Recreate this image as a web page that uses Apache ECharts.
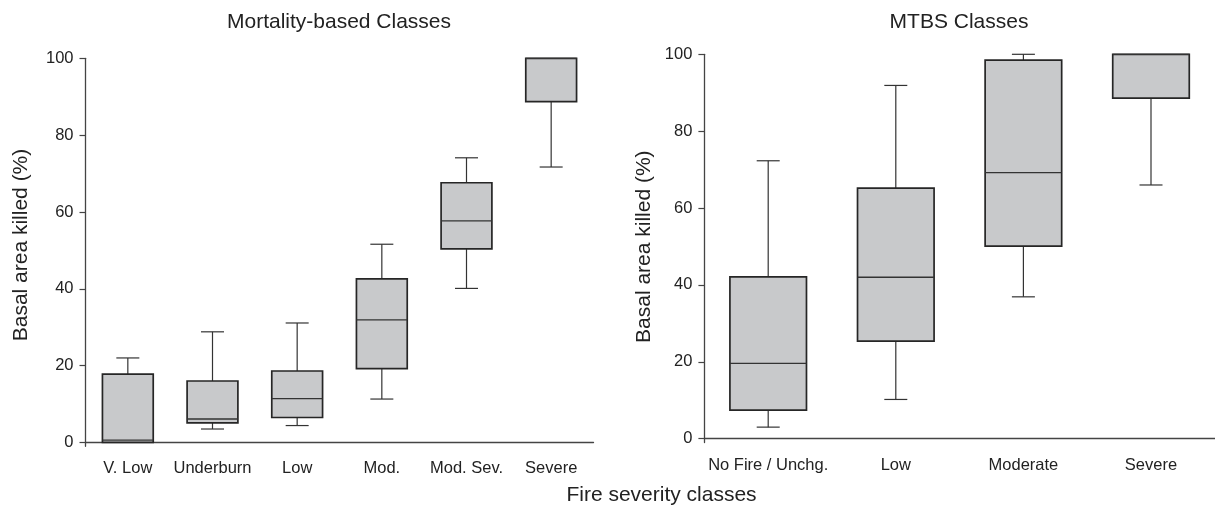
<!DOCTYPE html>
<html>
<head>
<meta charset="utf-8">
<script src="https://cdn.jsdelivr.net/npm/echarts@6/dist/echarts.min.js"></script>
<style>
html,body{margin:0;padding:0;background:#fff;}
#chart{width:1215px;height:507px;}
</style>
</head>
<body>
<div id="chart"></div>
<script>
// ---- data ----
const leftCategories = ['V. Low', 'Underburn', 'Low', 'Mod.', 'Mod. Sev.', 'Severe'];
const leftMin    = [0,    3.5,  4.4,  11.3, 40.1, 71.7];
const leftQ1     = [0,    5.1,  6.5,  19.2, 50.4, 88.7];
const leftMedian = [0.6,  6.1,  11.4, 31.9, 57.7, 100];
const leftQ3     = [17.8, 16.0, 18.6, 42.6, 67.6, 100];
const leftMax    = [22.0, 28.8, 31.1, 51.6, 74.1, 100];

const rightCategories = ['No Fire / Unchg.', 'Low', 'Moderate', 'Severe'];
const rightMin    = [3.0,  10.2, 36.9, 66.0];
const rightQ1     = [7.4,  25.4, 50.1, 88.6];
const rightMedian = [19.6, 42.0, 69.2, 100];
const rightQ3     = [42.1, 65.2, 98.5, 100];
const rightMax    = [72.3, 91.9, 100,  100];

const yTicks = [0, 20, 40, 60, 80, 100];

const leftTitle = 'Mortality-based Classes';
const rightTitle = 'MTBS Classes';
const yTitle = 'Basal area killed (%)';
const xTitle = 'Fire severity classes';

// ---- build ----
function rows(mins, q1s, meds, q3s, maxs) {
  return mins.map((v, i) => [i, mins[i], q1s[i], meds[i], q3s[i], maxs[i]]);
}

const TXT = '#222';
const FONT = "'Liberation Sans', Arial, sans-serif";

function renderBox(params, api) {
  const i = api.value(0);
  const vMin = api.value(1), vQ1 = api.value(2), vMed = api.value(3), vQ3 = api.value(4), vMax = api.value(5);
  const band = api.size([1, 0])[0];
  const half = band * 0.3;
  const capHalf = 11.5;
  const pMin = api.coord([i, vMin]);
  const pQ1 = api.coord([i, vQ1]);
  const pMed = api.coord([i, vMed]);
  const pQ3 = api.coord([i, vQ3]);
  const pMax = api.coord([i, vMax]);
  const x = pMed[0];
  const wStyle = { stroke: '#333', lineWidth: 1.2 };
  const children = [];
  if (vMax > vQ3) {
    children.push({ type: 'line', shape: { x1: x, y1: pMax[1], x2: x, y2: pQ3[1] }, style: wStyle });
    children.push({ type: 'line', shape: { x1: x - capHalf, y1: pMax[1], x2: x + capHalf, y2: pMax[1] }, style: wStyle });
  }
  if (vMin < vQ1) {
    children.push({ type: 'line', shape: { x1: x, y1: pQ1[1], x2: x, y2: pMin[1] }, style: wStyle });
    children.push({ type: 'line', shape: { x1: x - capHalf, y1: pMin[1], x2: x + capHalf, y2: pMin[1] }, style: wStyle });
  }
  children.push({
    type: 'rect',
    shape: { x: x - half, y: pQ3[1], width: half * 2, height: pQ1[1] - pQ3[1] },
    style: { fill: '#c8c9cb', stroke: '#262626', lineWidth: 1.7 }
  });
  children.push({ type: 'line', shape: { x1: x - half, y1: pMed[1], x2: x + half, y2: pMed[1] }, style: { stroke: '#333', lineWidth: 1.3 } });
  return { type: 'group', children: children };
}

function xAxisCfg(idx, cats) {
  return {
    type: 'category', gridIndex: idx, data: cats, boundaryGap: true,
    axisLine: { lineStyle: { color: '#444', width: 1.3 } },
    axisTick: { alignWithLabel: true, length: 6, lineStyle: { color: '#444', width: 1.2 } },
    axisLabel: { color: TXT, fontSize: 16.5, fontFamily: FONT, margin: 14, interval: 0 },
    splitLine: { show: false }
  };
}
function yAxisCfg(idx) {
  return {
    type: 'value', gridIndex: idx, min: -1, max: 100,
    axisLine: { show: true, lineStyle: { color: '#444', width: 1.3 } },
    axisTick: { show: true, length: 6, customValues: yTicks, lineStyle: { color: '#444', width: 1.2 } },
    axisLabel: { color: TXT, fontSize: 16.5, fontFamily: FONT, margin: 12, customValues: yTicks },
    splitLine: { show: false }
  };
}

const chart = echarts.init(document.getElementById('chart'), null, { renderer: 'canvas' });
chart.setOption({
  backgroundColor: '#fff',
  animation: false,
  title: [
    { text: leftTitle, left: 339, top: 12, padding: 0, textAlign: 'center', textStyle: { color: TXT, fontSize: 21, fontWeight: 'normal', fontFamily: FONT } },
    { text: rightTitle, left: 959, top: 12, padding: 0, textAlign: 'center', textStyle: { color: TXT, fontSize: 21, fontWeight: 'normal', fontFamily: FONT } }
  ],
  grid: [
    { left: 85.5, top: 58.3, width: 508, height: 388 },
    { left: 704.4, top: 54.3, width: 510.4, height: 388.2 }
  ],
  xAxis: [xAxisCfg(0, leftCategories), xAxisCfg(1, rightCategories)],
  yAxis: [yAxisCfg(0), yAxisCfg(1)],
  series: [
    { type: 'custom', xAxisIndex: 0, yAxisIndex: 0, renderItem: renderBox, clip: false,
      encode: { x: 0, y: [1, 2, 3, 4, 5] }, data: rows(leftMin, leftQ1, leftMedian, leftQ3, leftMax) },
    { type: 'custom', xAxisIndex: 1, yAxisIndex: 1, renderItem: renderBox, clip: false,
      encode: { x: 0, y: [1, 2, 3, 4, 5] }, data: rows(rightMin, rightQ1, rightMedian, rightQ3, rightMax) }
  ],
  graphic: [
    { type: 'text', x: 21.7, y: 245, rotation: Math.PI / 2,
      style: { text: yTitle, fill: TXT, font: '21px ' + FONT, textAlign: 'center', textVerticalAlign: 'middle' } },
    { type: 'text', x: 644, y: 246.7, rotation: Math.PI / 2,
      style: { text: yTitle, fill: TXT, font: '21px ' + FONT, textAlign: 'center', textVerticalAlign: 'middle' } },
    { type: 'text', x: 661.5, y: 495, 
      style: { text: xTitle, fill: TXT, font: '21px ' + FONT, textAlign: 'center', textVerticalAlign: 'middle' } }
  ]
});
</script>
</body>
</html>
